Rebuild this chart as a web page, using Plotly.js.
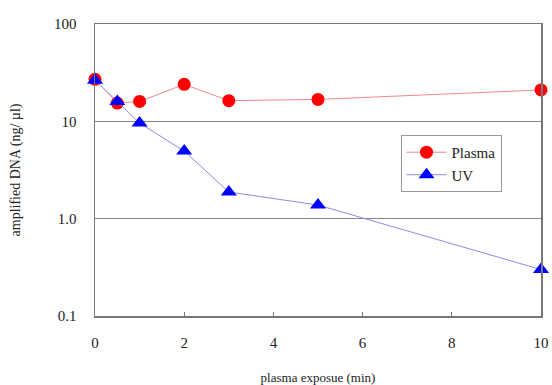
<!DOCTYPE html>
<html><head><meta charset="utf-8">
<script src="https://cdn.plot.ly/plotly-3.0.1.min.js"></script>
<style>body{margin:0;padding:0;background:#fff}#chart{width:552px;height:385px}</style>
</head><body><div id="chart"></div>
<script>
const timeMin = [0, 0.5, 1, 2, 3, 5, 10];
const plasmaDNA = [27, 15.4, 16, 24, 16.3, 16.8, 21];
const uvDNA = [26.5, 16, 9.6, 4.95, 1.88, 1.38, 0.30];
const yTickVals = [0.1, 1, 10, 100];
const yTickText = ['0.1', '1.0', '10', '100'];
const xTickVals = [0, 2, 4, 6, 8, 10];

const fam = '"Liberation Serif", "Times New Roman", serif';

const traces = [
  {x: timeMin, y: plasmaDNA, name: 'Plasma', type: 'scatter', mode: 'lines+markers',
   line: {color: '#f08a8a', width: 1}, marker: {symbol: 'circle', size: 13, color: '#ff0000', line: {width: 0}}, cliponaxis: false},
  {x: timeMin, y: uvDNA, name: 'UV', type: 'scatter', mode: 'lines+markers',
   line: {color: '#8c8ce6', width: 1}, marker: {symbol: 'triangle-up', size: 14, color: '#0000ff', line: {width: 0}}, cliponaxis: false}
];

const layout = {
  width: 552, height: 385,
  margin: {l: 95, r: 11, t: 24, b: 69},
  paper_bgcolor: '#fff', plot_bgcolor: '#fff',
  font: {family: fam, size: 15, color: '#222'},
  showlegend: true,
  legend: {x: 0.685, y: 0.62, xanchor: 'left', yanchor: 'top', bgcolor: '#fff',
           bordercolor: '#999', borderwidth: 1, font: {family: fam, size: 15, color: '#222'},
           tracegroupgap: 6, itemwidth: 40},
  xaxis: {range: [0, 10], tickvals: xTickVals, showline: true, mirror: true, linecolor: '#777', linewidth: 1.5,
          showgrid: false, zeroline: false, ticks: 'inside', ticklen: 4, tickcolor: '#777', ticklabelstandoff: 12,
          tickfont: {family: fam, size: 15, color: '#222'},
          title: {text: 'plasma exposue (min)', font: {family: fam, size: 13, color: '#222'}, standoff: 30}},
  yaxis: {type: 'log', range: [-1, 2], tickvals: yTickVals, ticktext: yTickText, showline: true, mirror: true,
          linecolor: '#777', linewidth: 1.5, showgrid: true, gridcolor: '#888', gridwidth: 1, zeroline: false,
          ticks: '', ticklabelstandoff: 14, tickfont: {family: fam, size: 15, color: '#222'},
          title: {text: 'amplified DNA (ng/ µl)', font: {family: fam, size: 14, color: '#222'}, standoff: 30}}
};

Plotly.newPlot('chart', traces, layout, {displayModeBar: false, staticPlot: true});
</script></body></html>
